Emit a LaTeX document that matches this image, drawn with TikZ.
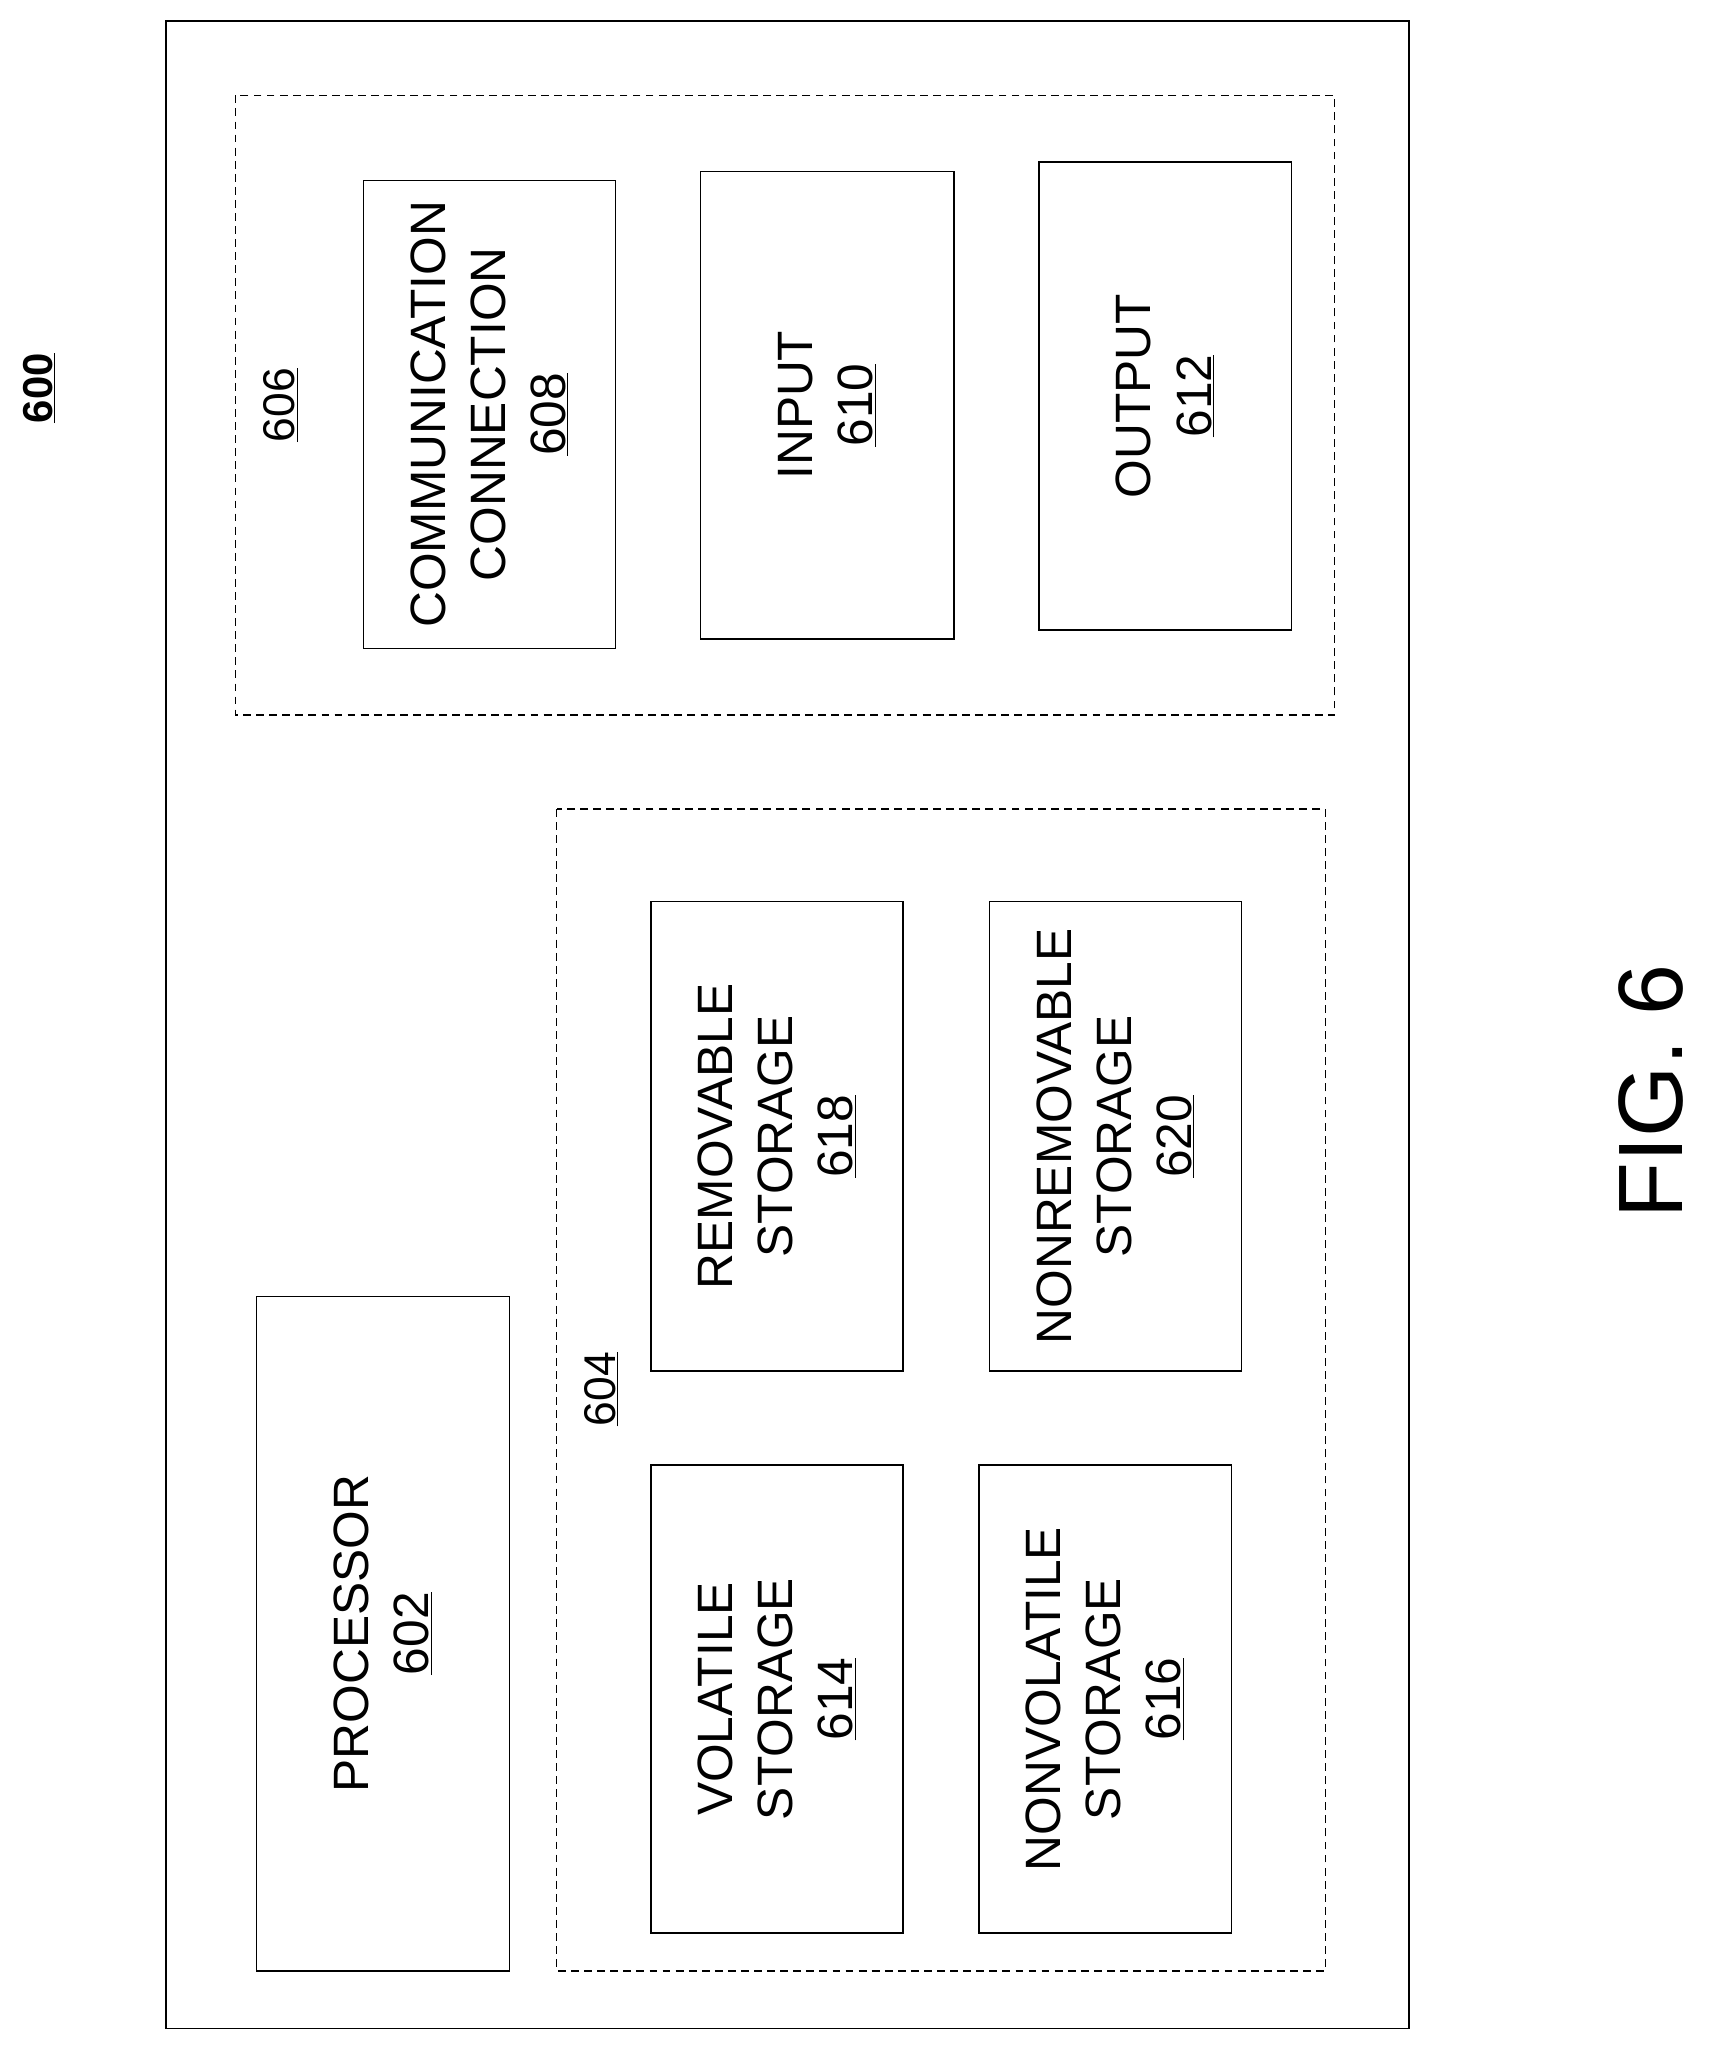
\documentclass[tikz,border=0pt]{standalone}
\usepackage{fontspec}
\setmainfont{Liberation Sans}
\begin{document}
\begin{tikzpicture}[x=1pt,y=-1pt,
  box/.style={draw,line width=1pt},
  group/.style={draw,dashed,line width=1pt,dash pattern=on 6pt off 4pt},
  lbl/.style={rotate=90,align=center,font=\fontsize{38}{46}\selectfont}]
\useasboundingbox (0,0) rectangle (1309,1567);

\draw[box] (127,16) rectangle (1078,1552);
\node[lbl,font=\fontsize{32}{38}\selectfont\bfseries] (n600) at (30,297) {\underline{600}};

% communication group
\draw[group] (180,73) rectangle (1021,547);
\node[lbl,font=\fontsize{34}{40}\selectfont] (n606) at (215,310) {\underline{606}};
\draw[box] (278,138) rectangle (471,496);
\node[lbl] (comm) at (374.5,317) {COMMUNICATION\\CONNECTION\\\underline{608}};
\draw[box] (536,131) rectangle (730,489);
\node[lbl] (input) at (633,310) {INPUT\\\underline{610}};
\draw[box] (795,124) rectangle (988,482);
\node[lbl] (output) at (891.5,303) {OUTPUT\\\underline{612}};

% memory group
\draw[group] (426,619) rectangle (1014,1508);
\node[lbl,font=\fontsize{34}{40}\selectfont] (n604) at (460,1063) {\underline{604}};
\draw[box] (498,690) rectangle (691,1049);
\node[lbl] (remov) at (594.5,869.5) {REMOVABLE\\STORAGE\\\underline{618}};
\draw[box] (757,690) rectangle (950,1049);
\node[lbl] (nonremov) at (853.5,869.5) {NONREMOVABLE\\STORAGE\\\underline{620}};
\draw[box] (498,1121) rectangle (691,1479);
\node[lbl] (vol) at (594.5,1300) {VOLATILE\\STORAGE\\\underline{614}};
\draw[box] (749,1121) rectangle (942,1479);
\node[lbl] (nonvol) at (845.5,1300) {NONVOLATILE\\STORAGE\\\underline{616}};

% processor
\draw[box] (196,992) rectangle (390,1508);
\node[lbl] (proc) at (293,1250) {PROCESSOR\\\underline{602}};

\node[lbl,font=\fontsize{70}{78}\selectfont] (fig) at (1263,835) {FIG. 6};
\end{tikzpicture}
\end{document}
